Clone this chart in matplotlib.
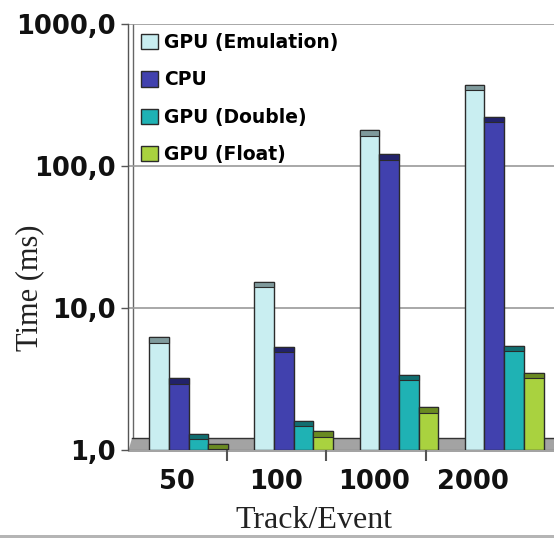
import matplotlib
matplotlib.use("Agg")
import matplotlib.pyplot as plt
from matplotlib.patches import Polygon, Rectangle
from matplotlib.ticker import NullLocator

# ---- data ----
categories = ["50", "100", "1000", "2000"]
series_names = ["GPU (Emulation)", "CPU", "GPU (Double)", "GPU (Float)"]
gpu_emulation = [6.2, 15.2, 178, 372]
cpu = [3.2, 5.3, 121, 221]
gpu_double = [1.3, 1.6, 3.4, 5.4]
gpu_float = [1.1, 1.35, 2.0, 3.5]
y_ticks = [1, 10, 100, 1000]
y_tick_labels = ["1,0", "10,0", "100,0", "1000,0"]

series = [gpu_emulation, cpu, gpu_double, gpu_float]
face_colors = ["#c9eef1", "#4141ae", "#1fb2b4", "#a9d23f"]
cap_colors = ["#7f9a9c", "#22226a", "#116e70", "#6a8a22"]

W, H = 554, 538
fig = plt.figure(figsize=(W / 100, H / 100), dpi=100)
# axes from x=128 px to 560 px, y from 24 px to 450 px
ax = fig.add_axes([128 / W, (H - 450) / H, (560 - 128) / W, (450 - 24) / H])
ax.set_yscale("log")
ax.set_ylim(1, 1000)
ax.set_xlim(-0.575, 3.53)

bar_w = 0.1875
handles = []
for j, (vals, fc, cc) in enumerate(zip(series, face_colors, cap_colors)):
    xs = [i + (j - 1.5) * bar_w for i in range(len(categories))]
    b = ax.bar(xs, [v - 1 for v in vals], bottom=1, width=bar_w, color=fc,
               edgecolor="#2b2b2b", linewidth=1.0, zorder=3, label=series_names[j])
    handles.append(b)
    # darker top cap (3D look)
    tops = [v for v in vals]
    caps_bottom = [v / 1.09 for v in vals]
    ax.bar(xs, [t - c for t, c in zip(tops, caps_bottom)], bottom=caps_bottom,
           width=bar_w, color=cc, edgecolor="#2b2b2b", linewidth=0.8, zorder=4)

# floor
floor = Polygon([(0, -0.004), (1.2, -0.004), (1.2, 0.028), (0.01, 0.028)],
                closed=True, transform=ax.transAxes, facecolor="#a3a3a3",
                edgecolor="none", zorder=1.5, clip_on=False)
ax.add_patch(floor)
ax.plot([0.01, 1.2], [0.028, 0.028], transform=ax.transAxes, color="#333333",
        lw=1.0, zorder=1.6, clip_on=False)

# gridlines and walls
ax.set_yticks(y_ticks, labels=y_tick_labels)
ax.yaxis.set_minor_locator(NullLocator())
ax.grid(axis="y", which="major", color="#9a9a9a", lw=1.2, zorder=0)
ax.plot([0.0105, 0.0105], [0.028, 1.0], transform=ax.transAxes, color="#666666",
        lw=1.0, zorder=1)
for s in ["top", "right", "bottom"]:
    ax.spines[s].set_visible(False)
ax.spines["left"].set_color("#555555")
ax.spines["left"].set_linewidth(1.0)

ax.tick_params(axis="y", which="major", length=5, width=1, color="#555555", pad=4)
for lbl in ax.get_yticklabels():
    lbl.set_fontfamily("DejaVu Sans")
    lbl.set_fontweight("bold")
    lbl.set_fontsize(18.5)
    lbl.set_color("#111111")

# x tick labels (shifted for the 3D perspective) and boundary ticks
label_pos = [i * 0.937 - 0.109 for i in range(len(categories))]
ax.set_xticks(label_pos, labels=categories)
ax.tick_params(axis="x", which="major", length=0, pad=14)
ax.set_xticks([i * 0.943 - 0.575 + 0.943 for i in range(len(categories) - 1)], minor=True)
ax.tick_params(axis="x", which="minor", length=8, width=1.5, color="#555555", direction="out")
for lbl in ax.get_xticklabels():
    lbl.set_fontfamily("DejaVu Sans")
    lbl.set_fontweight("bold")
    lbl.set_fontsize(18.5)
    lbl.set_color("#111111")

# axis titles
fig.text(30 / W, 1 - 288 / H, "Time (ms)", rotation=90, ha="center", va="center",
         fontfamily="Liberation Serif", fontsize=22, color="#222222")
fig.text(314 / W, 1 - 506 / H, "Track/Event", ha="center", va="top",
         fontfamily="Liberation Serif", fontsize=23, color="#222222")

# legend
leg = ax.legend(handles=handles, loc="upper left", bbox_to_anchor=(141 / W, 1 - 33 / H),
                bbox_transform=fig.transFigure, frameon=False, borderpad=0,
                borderaxespad=0, handlelength=0.9, handleheight=0.9,
                handletextpad=0.35, labelspacing=0.98,
                prop={"family": "DejaVu Sans", "weight": "bold", "size": 13.5})
leg.set_zorder(10)

# bottom gray strip of the picture
fig.patches.append(Rectangle((0, 0), 1, 3 / H, transform=fig.transFigure,
                             facecolor="#b5b5b5", edgecolor="none", zorder=20))

fig.savefig("out.png", dpi=100)
